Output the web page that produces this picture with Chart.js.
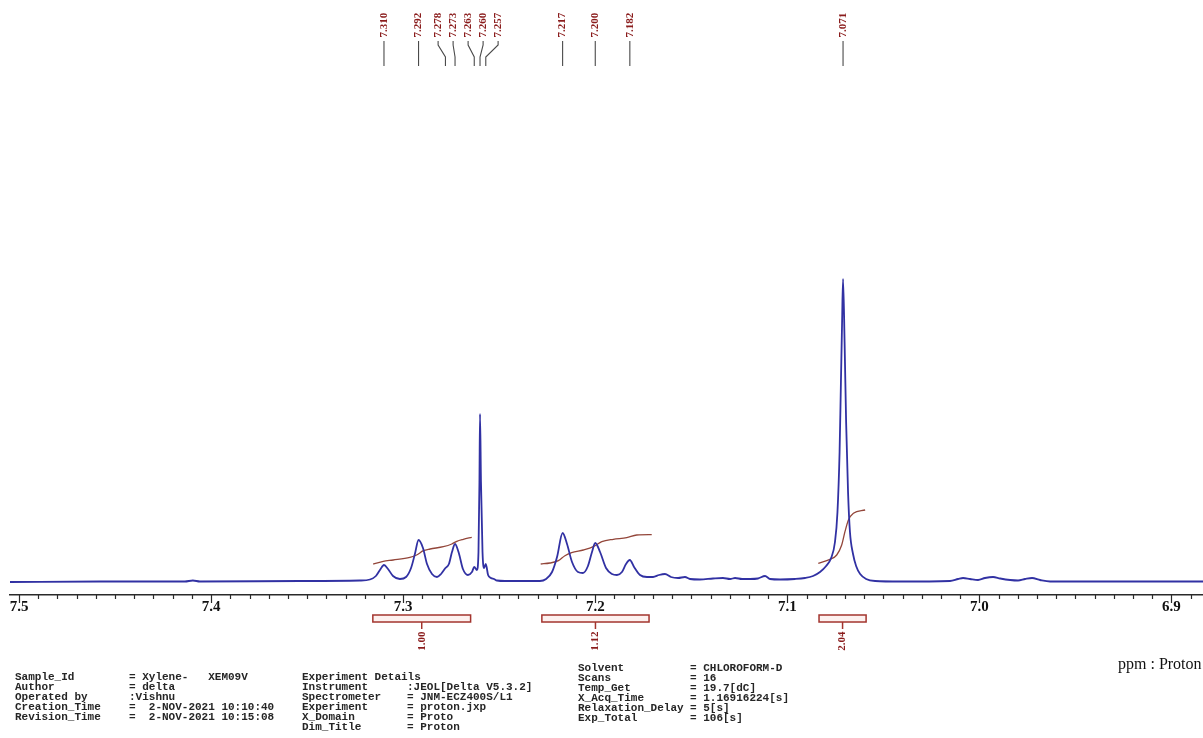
<!DOCTYPE html>
<html>
<head>
<meta charset="utf-8">
<title>Xylene 1H NMR – aromatic region</title>
<script src="https://cdn.jsdelivr.net/npm/chart.js@4.4.1/dist/chart.umd.min.js"></script>
<style>
  html, body { margin: 0; padding: 0; background: #ffffff; }
  canvas { display: block; }
</style>
</head>
<body>
<canvas id="nmr" width="1203" height="738"></canvas>
<script>
// ---- spectrum trace: chemical shift (ppm) and intensity (arb. units) ----
const shiftPpm = [
  7.5047, 7.4579, 7.4136, 7.4095, 7.4058, 7.3537, 7.3225, 7.3173, 7.3142, 7.3121,
  7.3100, 7.3079, 7.3053, 7.3017, 7.2985, 7.2959, 7.2939, 7.2920, 7.2897, 7.2876,
  7.2850, 7.2824, 7.2803, 7.2780, 7.2762, 7.2746, 7.2730, 7.2709, 7.2689, 7.2663,
  7.2642, 7.2630, 7.2616, 7.2608, 7.2603, 7.2600, 7.2595, 7.2587, 7.2579, 7.2570,
  7.2558, 7.2543, 7.2527, 7.2512, 7.2470, 7.2288, 7.2256, 7.2225, 7.2199, 7.2170,
  7.2147, 7.2121, 7.2090, 7.2064, 7.2038, 7.2017, 7.2000, 7.1975, 7.1944, 7.1913,
  7.1887, 7.1861, 7.1840, 7.1820, 7.1798, 7.1767, 7.1731, 7.1699, 7.1668, 7.1637,
  7.1606, 7.1569, 7.1533, 7.1507, 7.1455, 7.1387, 7.1335, 7.1298, 7.1272, 7.1236,
  7.1194, 7.1153, 7.1116, 7.1090, 7.1038, 7.0960, 7.0908, 7.0866, 7.0830, 7.0798,
  7.0772, 7.0752, 7.0739, 7.0728, 7.0721, 7.0715, 7.0710, 7.0702, 7.0694, 7.0684,
  7.0674, 7.0658, 7.0642, 7.0621, 7.0590, 7.0543, 7.0413, 7.0153, 7.0111, 7.0085,
  7.0049, 7.0007, 6.9971, 6.9929, 6.9892, 6.9840, 6.9799, 6.9762, 6.9726, 6.9684,
  6.9632, 6.9372, 6.8836
];
const intensity = [
  0, 0.5, 0.5, 1.5, 0.5, 1, 1.5, 2.5, 6, 12,
  17, 13, 6, 3, 5, 14, 28, 42, 34, 18,
  8, 5, 8, 14, 18, 30, 38, 28, 13, 7,
  10, 15, 12, 30, 100, 168, 100, 30, 14, 18,
  7, 4, 3, 1.5, 1, 1, 3, 10, 25, 49,
  38, 20, 10, 9, 16, 30, 39, 30, 14, 8,
  7, 10, 18, 22, 15, 7, 5, 5, 7, 8,
  5, 4, 5, 3, 2.5, 3.5, 4, 3, 4, 3,
  3, 3.5, 6, 3, 2.5, 3, 4, 6, 10, 16,
  24, 40, 70, 130, 200, 260, 303, 240, 160, 90,
  50, 28, 16, 8, 3, 1, 0.5, 1, 3, 4,
  3, 2, 4, 5, 3.5, 2, 1.5, 3, 4, 2,
  0.5, 0.5, 0.5
];

// ---- integral traces ----
const integralAPpm = [7.3156, 7.3104, 7.3052, 7.2965, 7.2930, 7.2895, 7.2860, 7.2791, 7.2747, 7.2721, 7.2687, 7.2643];
const integralAVal = [18, 20.7, 22, 24.7, 27, 31.3, 33, 35.3, 38, 40.7, 42.7, 44.7];
const integralBPpm = [7.2284, 7.2236, 7.2192, 7.2158, 7.2123, 7.2062, 7.2010, 7.1966, 7.1906, 7.1836, 7.1784, 7.1706];
const integralBVal = [18, 19, 21.3, 26.3, 29.3, 32, 35.3, 40.3, 42.7, 44.3, 47, 47.3];
const integralCPpm = [7.0839, 7.0778, 7.0743, 7.0717, 7.0700, 7.0682, 7.0656, 7.0595];
const integralCVal = [18.7, 22.7, 27, 37, 50.3, 62, 68.7, 72];

// integration regions and their relative areas
const integralFrom = [7.3158, 7.2278, 7.0835];
const integralTo   = [7.2649, 7.1720, 7.0590];
const integralArea = [1.00, 1.12, 2.04];

// picked peaks (ppm)
const peakShifts = [7.310, 7.292, 7.278, 7.273, 7.263, 7.260, 7.257, 7.217, 7.200, 7.182, 7.071];

// axis labels
const majorTickLabels = ['7.5', '7.4', '7.3', '7.2', '7.1', '7.0', '6.9'];
const axisTitle = 'ppm : Proton';

// acquisition parameters
const infoKeysA = ['Sample_Id', 'Author', 'Operated by', 'Creation_Time', 'Revision_Time'];
const infoValsA = ['= Xylene-   XEM09V', '= delta', ':Vishnu', '=  2-NOV-2021 10:10:40', '=  2-NOV-2021 10:15:08'];
const infoKeysB = ['Experiment Details', 'Instrument', 'Spectrometer', 'Experiment', 'X_Domain', 'Dim_Title'];
const infoValsB = ['', ':JEOL[Delta V5.3.2]', '= JNM-ECZ400S/L1', '= proton.jxp', '= Proto', '= Proton'];
const infoKeysC = ['Solvent', 'Scans', 'Temp_Get', 'X_Acq_Time', 'Relaxation_Delay', 'Exp_Total'];
const infoValsC = ['= CHLOROFORM-D', '= 16', '= 19.7[dC]', '= 1.16916224[s]', '= 5[s]', '= 106[s]'];

// ---------------------------------------------------------------------------
const toPoints = (xs, ys) => xs.map((x, i) => ({ x, y: ys[i] }));

const SPEC_COLOR = '#3131a3';
const INT_COLOR = '#93463a';
const LABEL_RED = '#8a1c1c';

function isMajor(v) {
  return Math.abs(v * 10 - Math.round(v * 10)) < 1e-6;
}

// spread overlapping peak labels apart, keeping each group centred
function spreadLabels(pixels, gap) {
  const order = pixels.map((p, i) => i).sort((a, b) => pixels[a] - pixels[b]);
  const groups = [];
  order.forEach(i => {
    groups.push({ ids: [i], sum: pixels[i] });
    while (groups.length > 1) {
      const g = groups[groups.length - 1];
      const p = groups[groups.length - 2];
      const gStart = g.sum / g.ids.length - (g.ids.length - 1) * gap / 2;
      const pEnd = p.sum / p.ids.length + (p.ids.length - 1) * gap / 2;
      if (gStart - pEnd < gap) {
        p.ids.push(...g.ids);
        p.sum += g.sum;
        groups.pop();
      } else break;
    }
  });
  const out = [];
  groups.forEach(g => {
    const c = g.sum / g.ids.length;
    g.ids.forEach((id, k) => { out[id] = c + (k - (g.ids.length - 1) / 2) * gap; });
  });
  return out;
}

function verticalText(ctx, text, x, y) {
  ctx.save();
  ctx.translate(x, y);
  ctx.rotate(-Math.PI / 2);
  ctx.textAlign = 'center';
  ctx.textBaseline = 'middle';
  ctx.fillText(text, 0, 0);
  ctx.restore();
}

const annotations = {
  id: 'annotations',
  afterDraw(chart) {
    const { ctx, chartArea } = chart;
    const xs = chart.scales.x;
    const axisY = chartArea.bottom;

    ctx.save();

    // axis tick marks (0.01 ppm minor, 0.1 ppm major)
    ctx.strokeStyle = '#2a2a2a';
    ctx.lineWidth = 1.2;
    xs.ticks.forEach(t => {
      const px = Math.round(xs.getPixelForValue(t.value)) + 0.5;
      ctx.beginPath();
      ctx.moveTo(px, axisY);
      ctx.lineTo(px, axisY + (isMajor(t.value) ? 8 : 4));
      ctx.stroke();
    });

    // peak pick labels with leader lines
    const peakPx = peakShifts.map(v => xs.getPixelForValue(v));
    const textPx = spreadLabels(peakPx, 15);
    ctx.font = 'bold 11px "Liberation Serif", "Times New Roman", serif';
    peakShifts.forEach((v, i) => {
      ctx.fillStyle = LABEL_RED;
      verticalText(ctx, v.toFixed(3), textPx[i], 25);
      ctx.strokeStyle = '#4a4a4a';
      ctx.lineWidth = 1.1;
      ctx.beginPath();
      ctx.moveTo(textPx[i], 41);
      ctx.lineTo(textPx[i], 45);
      ctx.lineTo(peakPx[i], 57);
      ctx.lineTo(peakPx[i], 66);
      ctx.stroke();
    });

    // integration bars and values
    integralFrom.forEach((from, i) => {
      const x1 = xs.getPixelForValue(from);
      const x2 = xs.getPixelForValue(integralTo[i]);
      const left = Math.min(x1, x2), w = Math.abs(x2 - x1);
      const cx = (x1 + x2) / 2;
      ctx.fillStyle = '#fdf1ef';
      ctx.fillRect(left, 615, w, 7);
      ctx.strokeStyle = '#a3342e';
      ctx.lineWidth = 1.5;
      ctx.strokeRect(left, 615, w, 7);
      ctx.beginPath();
      ctx.moveTo(cx, 622);
      ctx.lineTo(cx, 629);
      ctx.stroke();
      ctx.fillStyle = LABEL_RED;
      ctx.font = 'bold 11px "Liberation Serif", "Times New Roman", serif';
      verticalText(ctx, integralArea[i].toFixed(2), cx, 641);
    });

    // axis title
    ctx.fillStyle = '#111';
    ctx.font = '16px "Liberation Serif", "Times New Roman", serif';
    ctx.textAlign = 'left';
    ctx.textBaseline = 'middle';
    ctx.fillText(axisTitle, 1118, 665);

    // acquisition parameter blocks
    ctx.font = 'bold 11px "Liberation Mono", "DejaVu Sans Mono", monospace';
    ctx.fillStyle = '#262626';
    const block = (keys, vals, kx, vx, y0, step) => {
      keys.forEach((k, i) => {
        ctx.fillText(k, kx, y0 + i * step);
        if (vals[i]) ctx.fillText(vals[i], vx, y0 + i * step);
      });
    };
    block(infoKeysA, infoValsA, 15, 129, 677, 10);
    block(infoKeysB, infoValsB, 302, 407, 677, 10);
    block(infoKeysC, infoValsC, 578, 690, 668, 10);

    ctx.restore();
  }
};

new Chart(document.getElementById('nmr'), {
  type: 'line',
  data: {
    datasets: [
      {
        label: 'Spectrum',
        data: toPoints(shiftPpm, intensity),
        borderColor: SPEC_COLOR,
        borderWidth: 1.8,
        pointRadius: 0,
        cubicInterpolationMode: 'monotone',
        fill: false
      },
      {
        label: 'Integral 1',
        data: toPoints(integralAPpm, integralAVal),
        borderColor: INT_COLOR,
        borderWidth: 1.3,
        pointRadius: 0,
        cubicInterpolationMode: 'monotone'
      },
      {
        label: 'Integral 2',
        data: toPoints(integralBPpm, integralBVal),
        borderColor: INT_COLOR,
        borderWidth: 1.3,
        pointRadius: 0,
        cubicInterpolationMode: 'monotone'
      },
      {
        label: 'Integral 3',
        data: toPoints(integralCPpm, integralCVal),
        borderColor: INT_COLOR,
        borderWidth: 1.3,
        pointRadius: 0,
        cubicInterpolationMode: 'monotone'
      }
    ]
  },
  options: {
    responsive: false,
    devicePixelRatio: 1,
    animation: false,
    events: [],
    layout: { padding: { left: 10, right: 0, top: 75, bottom: 0 } },
    plugins: {
      legend: { display: false },
      tooltip: { enabled: false },
      title: { display: false }
    },
    scales: {
      x: {
        type: 'linear',
        reverse: true,
        min: 6.8836,
        max: 7.5047,
        afterBuildTicks(scale) {
          const ticks = [];
          for (let k = 689; k <= 750; k++) ticks.push({ value: k / 100 });
          scale.ticks = ticks;
        },
        afterFit(scale) { scale.height = 143; },
        grid: { display: false, drawTicks: false, drawOnChartArea: false },
        border: { display: true, color: '#2a2a2a', width: 1.5 },
        ticks: {
          autoSkip: false,
          maxRotation: 0,
          minRotation: 0,
          padding: 3,
          color: '#111',
          font: { family: '"Liberation Serif", "Times New Roman", serif', size: 15, weight: 'bold' },
          callback(value) {
            const s = Number(value).toFixed(1);
            return isMajor(value) && majorTickLabels.includes(s) ? s : '';
          }
        }
      },
      y: {
        display: false,
        min: -13,
        max: 507
      }
    }
  },
  plugins: [annotations]
});
</script>
</body>
</html>
